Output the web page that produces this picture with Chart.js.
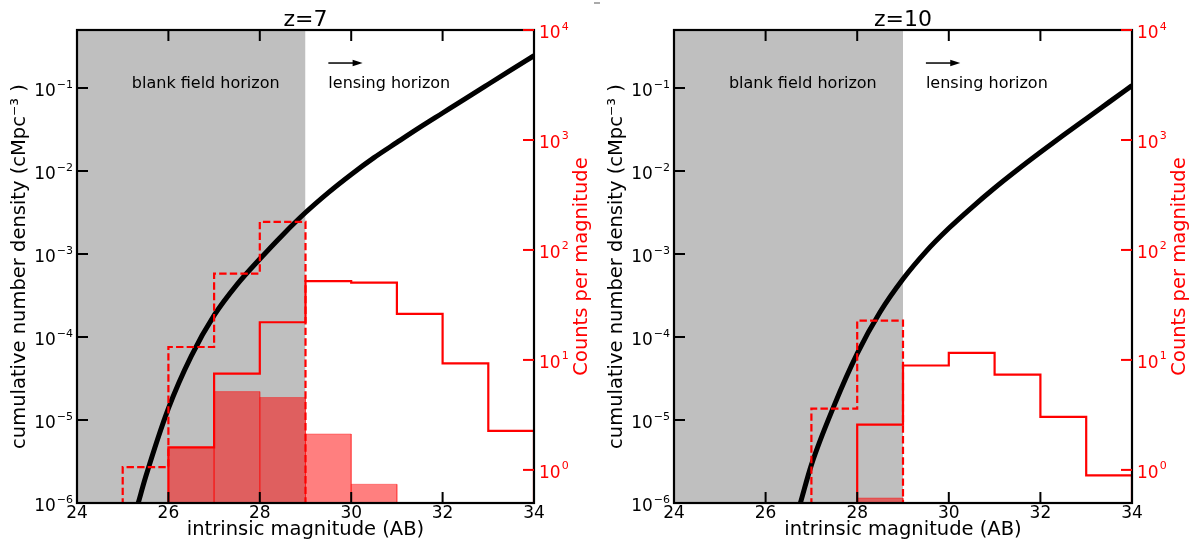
<!DOCTYPE html>
<html>
<head>
<meta charset="utf-8">
<script src="https://cdn.jsdelivr.net/npm/chart.js@4.4.0/dist/chart.umd.min.js"></script>
<style>
  html, body { margin: 0; padding: 0; background: #fff; }
  #wrap { position: relative; width: 1197px; height: 544px; overflow: hidden; }
  #c1 { position: absolute; left: 0; top: 0; }
  #c2 { position: absolute; left: 597px; top: 0; }
  #mark { position: absolute; left: 594px; top: 2px; width: 6px; height: 2px; background: #aaa; }
</style>
</head>
<body>
<div id="wrap">
  <canvas id="c1" width="597" height="544"></canvas>
  <canvas id="c2" width="600" height="544"></canvas>
  <div id="mark"></div>
</div>
<script>
// Axis ticks
const magTicks = [24, 26, 28, 30, 32, 34];
const densityTicks = [1e-6, 1e-5, 1e-4, 1e-3, 1e-2, 1e-1];
const countTicks = [1, 10, 100, 1000, 10000];

// z=7 : cumulative number density curve (cMpc^-3)
const z7CurveMag = [25.34, 25.5, 26, 26.5, 27, 27.5, 28, 28.5, 29, 29.5, 30, 30.5, 31, 31.5, 32, 32.5, 33, 33.5, 34];
const z7CurveDensity = [1.0e-6, 2.04e-6, 1.38e-5, 5.9e-5, 1.82e-4, 4.27e-4, 8.7e-4, 1.70e-3, 3.16e-3, 5.5e-3,
                        9.1e-3, 1.45e-2, 2.21e-2, 3.35e-2, 5.0e-2, 7.46e-2, 0.111, 0.165, 0.245];

// z=7 : counts per magnitude
const z7SolidEdges = [26, 27, 28, 29, 30, 31, 32, 33, 34];
const z7SolidCounts = [1.6, 7.5, 22, 52, 50.4, 26.2, 9.3, 2.26];
const z7DashedEdges = [25, 26, 27, 28, 29];
const z7DashedCounts = [1.06, 13.1, 61, 180];
const z7FilledEdges = [26, 27, 28, 29, 30, 31];
const z7FilledCounts = [1.6, 5.15, 4.55, 2.12, 0.74];

// z=10 : cumulative number density curve
const z10CurveMag = [26.76, 27, 27.5, 28, 28.5, 29, 29.5, 30, 30.5, 31, 31.5, 32, 32.5, 33, 33.5, 34];
const z10CurveDensity = [1.0e-6, 2.88e-6, 1.51e-5, 6.3e-5, 2.0e-4, 5.0e-4, 1.07e-3, 2.04e-3, 3.63e-3, 6.24e-3,
                         1.035e-2, 1.68e-2, 2.69e-2, 4.27e-2, 6.76e-2, 0.107];

// z=10 : counts per magnitude
const z10SolidEdges = [28, 29, 30, 31, 32, 33, 34];
const z10SolidCounts = [2.58, 8.9, 11.6, 7.35, 3.03, 0.89];
const z10DashedEdges = [27, 28, 29];
const z10DashedCounts = [3.6, 22.8];
const z10FilledEdges = [28, 29];
const z10FilledCounts = [0.555];

const FONT = "'DejaVu Sans', sans-serif";
const RED = '#ff0000';
const histFloor = 0.1;   // below the axis, so step outlines run off the bottom
const TICK = 11;

// step outline of a histogram
function stepPoints(edges, counts) {
    const n = counts.length;
    const pts = [{x: edges[0], y: histFloor}];
    counts.forEach((c, i) => pts.push({x: edges[i], y: c}));
    pts.push({x: edges[n], y: counts[n - 1]});
    pts.push({x: edges[n], y: histFloor});
    return pts;
}

// one translucent bar per bin
function barDatasets(edges, counts) {
    return counts.map((c, i) => ({
        data: [{x: edges[i], y: histFloor}, {x: edges[i], y: c}, {x: edges[i + 1], y: c}, {x: edges[i + 1], y: histFloor}],
        yAxisID: 'y2',
        borderColor: 'rgba(255,0,0,0.35)',
        borderWidth: 1,
        backgroundColor: 'rgba(255,0,0,0.5)',
        fill: 'start',
        pointRadius: 0,
        order: 8
    }));
}

function line(ctx, x0, y0, x1, y1) {
    ctx.beginPath();
    ctx.moveTo(x0, y0);
    ctx.lineTo(x1, y1);
    ctx.stroke();
}

// "10" with a raised exponent, like the mathtext labels
function powLabel(ctx, v, xAnchor, py, align, color) {
    const e = String(Math.round(Math.log10(v))).replace('-', '\u2212');
    ctx.font = '17px ' + FONT;
    const wb = ctx.measureText('10').width;
    ctx.font = '11px ' + FONT;
    const we = ctx.measureText(e).width;
    const x0 = align === 'right' ? xAnchor - wb - we - 1 : xAnchor;
    ctx.fillStyle = color;
    ctx.textAlign = 'left';
    ctx.textBaseline = 'alphabetic';
    ctx.font = '17px ' + FONT;
    ctx.fillText('10', x0, py + 8);
    ctx.font = '11px ' + FONT;
    ctx.fillText(e, x0 + wb + 1, py - 0.5);
}

// frame, inward ticks, tick labels, titles and text labels
const decor = {
    id: 'decor',
    afterDatasetsDraw(chart, args, opts) {
        const {ctx, chartArea: a, scales: {x, y, y2}} = chart;
        ctx.save();
        ctx.strokeStyle = '#000';
        ctx.lineWidth = 2.2;
        ctx.strokeRect(a.left, a.top, a.right - a.left, a.bottom - a.top);

        ctx.lineWidth = 2;
        x.ticks.forEach(t => {
            const px = x.getPixelForValue(t.value);
            line(ctx, px, a.bottom, px, a.bottom - TICK);
            line(ctx, px, a.top, px, a.top + TICK);
        });
        y.ticks.forEach(t => {
            const py = y.getPixelForValue(t.value);
            line(ctx, a.left, py, a.left + TICK, py);
            powLabel(ctx, t.value, a.left - 4, py, 'right', '#000');
        });
        ctx.strokeStyle = RED;
        y2.ticks.forEach(t => {
            const py = y2.getPixelForValue(t.value);
            line(ctx, a.right - TICK, py, a.right, py);
            powLabel(ctx, t.value, a.right + 5, py, 'left', RED);
        });

        // panel title
        ctx.fillStyle = '#000';
        ctx.textAlign = 'center';
        ctx.textBaseline = 'alphabetic';
        ctx.font = '22px ' + FONT;
        ctx.fillText(opts.title, (a.left + a.right) / 2, 26);

        // right axis title, reading upwards
        ctx.save();
        ctx.translate(a.right + 48, (a.top + a.bottom) / 2);
        ctx.rotate(-Math.PI / 2);
        ctx.fillStyle = RED;
        ctx.textBaseline = 'middle';
        ctx.font = '19.5px ' + FONT;
        ctx.fillText('Counts per magnitude', 0, 0);
        ctx.restore();

        // horizon labels
        ctx.fillStyle = '#000';
        ctx.font = '16px ' + FONT;
        ctx.textAlign = 'left';
        ctx.fillText('blank field horizon', x.getPixelForValue(25.2), y.getPixelForValue(0.1));
        ctx.fillText('lensing horizon', x.getPixelForValue(29.5), y.getPixelForValue(0.1));

        // arrow
        const ax0 = x.getPixelForValue(29.5), ax1 = x.getPixelForValue(30.25);
        const ay = y.getPixelForValue(0.2);
        ctx.strokeStyle = '#000';
        ctx.lineWidth = 1.5;
        line(ctx, ax0, ay, ax1 - 8, ay);
        ctx.beginPath();
        ctx.moveTo(ax1, ay);
        ctx.lineTo(ax1 - 10, ay - 3.2);
        ctx.lineTo(ax1 - 10, ay + 3.2);
        ctx.closePath();
        ctx.fill();
        ctx.restore();
    }
};

function makePanel(canvasId, title, curveMag, curveDensity, solid, dashed, filled, rightWidth) {
    const datasets = [];
    // grey shading of the blank field horizon
    datasets.push({
        data: [{x: 24, y: 0.5}, {x: 29, y: 0.5}],
        yAxisID: 'y',
        borderWidth: 0,
        backgroundColor: '#bfbfbf',
        fill: 'start',
        pointRadius: 0,
        order: 10
    });
    barDatasets(filled[0], filled[1]).forEach(d => datasets.push(d));
    datasets.push({
        data: curveMag.map((m, i) => ({x: m, y: curveDensity[i]})),
        yAxisID: 'y',
        borderColor: '#000',
        borderWidth: 5,
        cubicInterpolationMode: 'monotone',
        pointRadius: 0,
        fill: false,
        order: 5
    });
    datasets.push({
        data: stepPoints(solid[0], solid[1]),
        yAxisID: 'y2',
        borderColor: RED,
        borderWidth: 2.2,
        stepped: true,
        pointRadius: 0,
        fill: false,
        order: 2
    });
    datasets.push({
        data: stepPoints(dashed[0], dashed[1]),
        yAxisID: 'y2',
        borderColor: RED,
        borderWidth: 2.2,
        borderDash: [7.4, 3.2],
        stepped: true,
        pointRadius: 0,
        fill: false,
        order: 1
    });

    return new Chart(document.getElementById(canvasId), {
        type: 'line',
        data: {datasets: datasets},
        options: {
            responsive: false,
            devicePixelRatio: 1,
            animation: false,
            layout: {padding: {top: 30, left: 0, right: 0, bottom: 0}},
            plugins: {
                legend: {display: false},
                tooltip: {enabled: false},
                decor: {title: title}
            },
            scales: {
                x: {
                    type: 'linear',
                    position: 'bottom',
                    min: 24,
                    max: 34,
                    afterBuildTicks: s => { s.ticks = magTicks.map(v => ({value: v})); },
                    afterFit: s => { s.height = 41; },
                    ticks: {font: {family: FONT, size: 17}, color: '#000', padding: 0, maxRotation: 0, autoSkip: false},
                    grid: {display: false, drawTicks: false},
                    border: {display: false},
                    title: {display: true, text: 'intrinsic magnitude (AB)', color: '#000',
                            font: {family: FONT, size: 19.5}, padding: {top: 0, bottom: 2}}
                },
                y: {
                    type: 'logarithmic',
                    position: 'left',
                    min: 1e-6,
                    max: 0.5,
                    afterBuildTicks: s => { s.ticks = densityTicks.map(v => ({value: v})); },
                    afterFit: s => { s.width = 77; },
                    ticks: {display: false},
                    grid: {display: false, drawTicks: false},
                    border: {display: false},
                    title: {display: true, text: 'cumulative number density (cMpc\u207B\u00B3 )', color: '#000',
                            font: {family: FONT, size: 19.5}, padding: {top: 8, bottom: 0}}
                },
                y2: {
                    type: 'logarithmic',
                    position: 'right',
                    min: 0.5,
                    max: 10000,
                    afterBuildTicks: s => { s.ticks = countTicks.map(v => ({value: v})); },
                    afterFit: s => { s.width = rightWidth; },
                    ticks: {display: false},
                    grid: {display: false, drawTicks: false},
                    border: {display: false}
                }
            }
        },
        plugins: [decor]
    });
}

makePanel('c1', 'z=7', z7CurveMag, z7CurveDensity,
          [z7SolidEdges, z7SolidCounts], [z7DashedEdges, z7DashedCounts], [z7FilledEdges, z7FilledCounts], 63);
makePanel('c2', 'z=10', z10CurveMag, z10CurveDensity,
          [z10SolidEdges, z10SolidCounts], [z10DashedEdges, z10DashedCounts], [z10FilledEdges, z10FilledCounts], 65);
</script>
</body>
</html>
